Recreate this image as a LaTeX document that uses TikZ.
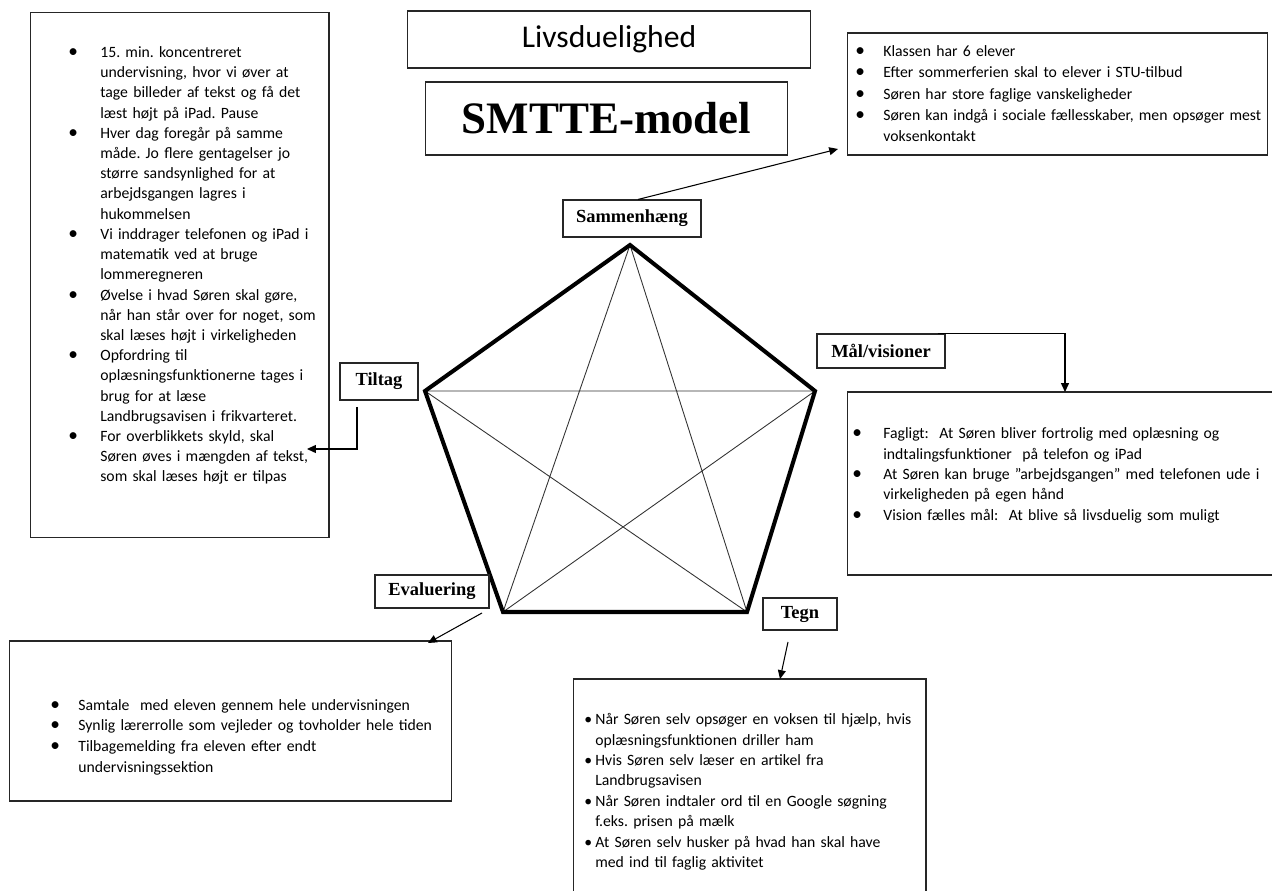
\documentclass[tikz,border=0pt]{standalone}
\usepackage{fontspec}
\setmainfont{Carlito}
\newfontfamily\serifhead{Liberation Serif}
\usepackage{tikz}
\usetikzlibrary{arrows.meta}

% bullet point with hanging indent, lines broken with \newline
\newcommand{\prik}{{\fontsize{11}{0}\selectfont\textbullet}}
\newcommand{\bitem}[2]{\par\raggedright\frenchspacing\noindent\hangindent=#1\hangafter=1\makebox[#1][l]{\prik}#2\par}

\begin{document}
\begin{tikzpicture}[
    x=0.02cm, y=-0.02cm,
    boks/.style={rectangle, draw=black!85, line width=0.6pt, inner sep=0pt},
    titel/.style={boks, font=\serifhead\bfseries\fontsize{10.5}{12}\selectfont},
    punkter/.style={anchor=north west, inner sep=0pt, text width=9cm, font=\fontsize{8.95}{11.5}\selectfont},
    kant/.style={line width=2.3pt, line join=miter},
    streg/.style={line width=0.5pt, black!80},
    pil/.style={-{Triangle[length=5pt,width=4.5pt]}, line width=0.6pt}
]
\path[use as bounding box] (0,0) rectangle (1272,891);
\clip (0,0) rectangle (1272,891);

% Titles
\node[boks, minimum width=8.08cm, minimum height=1.14cm, font=\fontsize{18}{22}\selectfont] (livs) at (609,39.5) {Livsduelighed};
\node[boks, minimum width=7.26cm, minimum height=1.46cm, font=\serifhead\bfseries\fontsize{25.6}{30}\selectfont] (smtte) at (606.5,118.5) {SMTTE-model};

% Pentagon
\coordinate (h1) at (630,245);
\coordinate (h2) at (815,391);
\coordinate (h3) at (747,612);
\coordinate (h4) at (503,612);
\coordinate (h5) at (425,391);
\draw[streg] (h1) -- (h3) (h1) -- (h4) (h2) -- (h4) (h2) -- (h5) (h5) -- (h3);
\draw[kant] (h1) -- (h2) -- (h3) -- (h4) -- (h5) -- cycle;

% Corner labels
\node[titel, minimum width=2.76cm, minimum height=0.74cm] (sammen) at (632,218.5) {Sammenhæng};
\node[titel, minimum width=2.56cm, minimum height=0.68cm] (maal) at (881,351) {Mål/visioner};
\node[titel, minimum width=1.56cm, minimum height=0.74cm] (tiltag) at (379,381.5) {Tiltag};
\node[titel, minimum width=2.28cm, minimum height=0.66cm] (eval) at (432,591.5) {Evaluering};
\node[titel, minimum width=1.48cm, minimum height=0.64cm] (tegn) at (800,614) {Tegn};

% Text boxes
\node[boks, minimum width=5.98cm, minimum height=10.52cm] (tiltagboks) at (179.5,275) {};
\node[boks, minimum width=8.42cm, minimum height=2.44cm] (kontekstboks) at (1057.5,94) {};
\node[boks, minimum width=8.54cm, minimum height=3.66cm] (maalboks) at (1060.5,483.5) {};
\node[boks, minimum width=8.86cm, minimum height=3.2cm] (evalboks) at (230.5,721) {};
\node[boks, minimum width=7.06cm, minimum height=4.42cm] (tegnboks) at (749.5,789.5) {};

% Tiltag
\node[punkter] (tiltagtekst) at (68,37) {%
\bitem{0.64cm}{15. min. koncentreret\newline undervisning, hvor vi øver at\newline tage billeder af tekst og få det\newline læst højt på iPad. Pause}
\bitem{0.64cm}{Hver dag foregår på samme\newline måde. Jo flere gentagelser jo\newline større sandsynlighed for at\newline arbejdsgangen lagres i\newline hukommelsen}
\bitem{0.64cm}{Vi inddrager telefonen og iPad i\newline matematik ved at bruge\newline lommeregneren}
\bitem{0.64cm}{Øvelse i hvad Søren skal gøre,\newline når han står over for noget, som\newline skal læses højt i virkeligheden}
\bitem{0.64cm}{Opfordring til\newline oplæsningsfunktionerne tages i\newline brug for at læse\newline Landbrugsavisen i frikvarteret.}
\bitem{0.64cm}{For overblikkets skyld, skal\newline Søren øves i mængden af tekst,\newline som skal læses højt er tilpas}};

% Sammenhaeng
\node[punkter, font=\fontsize{8.95}{12.1}\selectfont] (kontekst) at (855,35) {%
\bitem{0.56cm}{Klassen har 6 elever}
\bitem{0.56cm}{Efter sommerferien skal to elever i STU-tilbud}
\bitem{0.56cm}{Søren har store faglige vanskeligheder}
\bitem{0.56cm}{Søren kan indgå i sociale fællesskaber, men opsøger mest\newline voksenkontakt}};

% Maal
\node[punkter, font=\fontsize{8.95}{11.6}\selectfont] (maaltekst) at (852,418) {%
\bitem{0.62cm}{Fagligt:\ \ At Søren bliver fortrolig med oplæsning og\newline indtalingsfunktioner\ \ på telefon og iPad}
\bitem{0.62cm}{At Søren kan bruge ”arbejdsgangen” med telefonen ude i\newline virkeligheden på egen hånd}
\bitem{0.62cm}{Vision fælles mål:\ \ At blive så livsduelig som muligt}};

% Evaluering
\node[punkter, font=\fontsize{8.95}{11.8}\selectfont] (evaltekst) at (50,689) {%
\bitem{0.56cm}{Samtale\ \ med eleven gennem hele undervisningen}
\bitem{0.56cm}{Synlig lærerrolle som vejleder og tovholder hele tiden}
\bitem{0.56cm}{Tilbagemelding fra eleven efter endt\newline undervisningssektion}};

% Tegn
\node[punkter, font=\fontsize{8.95}{11.6}\selectfont] (tegntekst) at (584,704) {%
\renewcommand{\prik}{\textbullet}%
\bitem{0.22cm}{Når Søren selv opsøger en voksen til hjælp, hvis\newline oplæsningsfunktionen driller ham}
\bitem{0.22cm}{Hvis Søren selv læser en artikel fra\newline Landbrugsavisen}
\bitem{0.22cm}{Når Søren indtaler ord til en Google søgning\newline f.eks. prisen på mælk}
\bitem{0.22cm}{At Søren selv husker på hvad han skal have\newline med ind til faglig aktivitet}};

% Arrows
\coordinate (kontekstpil) at (838,149);
\coordinate (maalpil) at (1065,392);
\coordinate (tiltagud) at (357,407);
\coordinate (tiltagpil) at (307,449);
\coordinate (evalud) at (482,613);
\coordinate (evalpil) at (428,643);
\coordinate (tegnud) at (788,642);
\coordinate (tegnpil) at (780,679);
\draw[pil] ([xshift=0.12cm]sammen.north) -- (kontekstpil);
\draw[pil] ([xshift=-0.16cm]maal.north east) -| (maalpil);
\draw[pil] (tiltagud) |- (tiltagpil);
\draw[pil] (evalud) -- (evalpil);
\draw[pil] (tegnud) -- (tegnpil);

\end{tikzpicture}
\end{document}
